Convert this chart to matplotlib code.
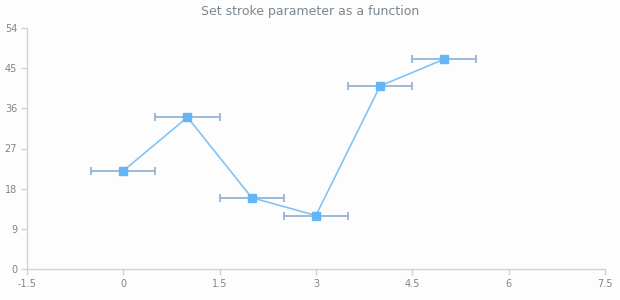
import matplotlib.pyplot as plt

# data
x_vals = [0, 1, 2, 3, 4, 5]
y_vals = [22, 34, 16, 12, 41, 47]
x_err = [0.5, 0.5, 0.5, 0.5, 0.5, 0.5]
x_ticks = [-1.5, 0, 1.5, 3, 4.5, 6, 7.5]
x_labels = ['-1.5', '0', '1.5', '3', '4.5', '6', '7.5']
y_ticks = [0, 9, 18, 27, 36, 45, 54]

text_color = '#7c868e'
axis_color = '#cfd4d8'

fig = plt.figure(figsize=(6.2, 3.0), dpi=100)
fig.patch.set_facecolor('#fdfdfd')
ax = fig.add_axes([0.0435, 0.103, 0.932, 0.804])
ax.set_facecolor('#fdfdfd')

# error bars
ax.errorbar(x_vals, y_vals, xerr=x_err, fmt='none', ecolor='#8eaed0',
            elinewidth=1.2, capsize=3, capthick=1.2, zorder=2)
# series line and markers
ax.plot(x_vals, y_vals, color='#80c4f6', lw=1.2, zorder=3)
ax.plot(x_vals, y_vals, 's', color='#64b5f6', markersize=5.5, zorder=4)

ax.set_xlim(-1.5, 7.5)
ax.set_ylim(0, 54)
ax.set_xticks(x_ticks)
ax.set_xticklabels(x_labels)
ax.set_yticks(y_ticks)

for side in ['top', 'right']:
    ax.spines[side].set_visible(False)
for side in ['left', 'bottom']:
    ax.spines[side].set_color(axis_color)
    ax.spines[side].set_linewidth(1)

ax.tick_params(axis='both', colors=axis_color, labelcolor=text_color,
               labelsize=7, length=4, width=1, pad=3)

fig.suptitle('Set stroke parameter as a function', x=0.5, y=0.985,
             fontsize=9, color=text_color)

fig.savefig('out.png', dpi=100, facecolor=fig.get_facecolor())
